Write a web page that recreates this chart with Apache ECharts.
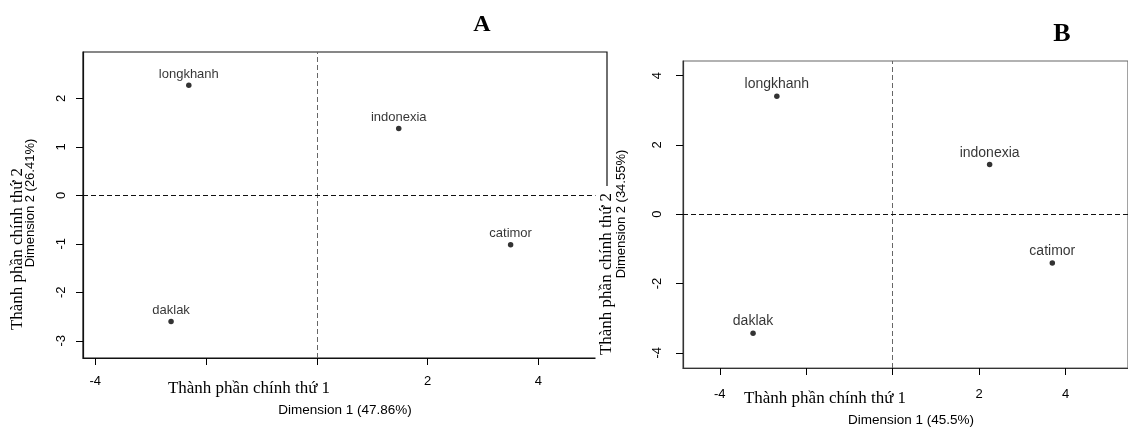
<!DOCTYPE html>
<html>
<head>
<meta charset="utf-8">
<title>PCA</title>
<script src="https://cdn.jsdelivr.net/npm/echarts@6/dist/echarts.min.js"></script>
<style>
  html, body { margin: 0; padding: 0; background: #fff; }
  #chart { width: 1128px; height: 428px; }
</style>
</head>
<body>
<div id="chart"></div>
<script>
const names = ['longkhanh', 'indonexia', 'catimor', 'daklak'];

// panel A
const dimA1 = [-2.31, 1.48, 3.50, -2.63];
const dimA2 = [2.27, 1.38, -1.02, -2.60];
// panel B
const dimB1 = [-2.68, 2.24, 3.69, -3.23];
const dimB2 = [3.40, 1.43, -1.41, -3.44];

const ticksAx = [-4, -2, 0, 2, 4];
const labelsAx = [-4, 2, 4];
const ticksAy = [-3, -2, -1, 0, 1, 2];
const ticksBx = [-4, -2, 0, 2, 4];
const labelsBx = [-4, 2, 4];
const ticksBy = [-4, -2, 0, 2, 4];

const rangeAx = [-4.22, 5.24];
const rangeAy = [-3.355, 2.955];
const rangeBx = [-4.85, 5.44];
const rangeBy = [-4.44, 4.42];

const titleX = 'Thành phần chính thứ 1';
const titleY = 'Thành phần chính thứ 2';
const dimLabelA = ['Dimension 1 (47.86%)', 'Dimension 2 (26.41%)'];
const dimLabelB = ['Dimension 1 (45.5%)', 'Dimension 2 (34.55%)'];

const SANS = '"Liberation Sans", Arial, sans-serif';
const SERIF = '"Liberation Serif", "Times New Roman", serif';

function xAxisFor(grid, range, ticks, labels, color, margin) {
    return {
        type: 'value', gridIndex: grid, min: range[0], max: range[1],
        axisLine: { show: true, onZero: false, lineStyle: { color: color, width: 1.2 } },
        axisTick: { show: true, length: 7, customValues: ticks, lineStyle: { color: '#000' } },
        axisLabel: { customValues: labels, margin: margin, color: '#000', fontFamily: SANS, fontSize: 13 },
        splitLine: { show: false }
    };
}

function yAxisFor(grid, range, ticks, color, margin) {
    return {
        type: 'value', gridIndex: grid, min: range[0], max: range[1],
        axisLine: { show: true, onZero: false, lineStyle: { color: color, width: 1.2 } },
        axisTick: { show: true, length: 7, customValues: ticks, lineStyle: { color: '#000' } },
        axisLabel: { customValues: ticks, rotate: 90, margin: margin, color: '#000', fontFamily: SANS, fontSize: 13 },
        splitLine: { show: false }
    };
}

function scatterFor(idx, xs, ys, fontSize) {
    return {
        type: 'scatter', xAxisIndex: idx, yAxisIndex: idx,
        data: names.map((n, i) => ({ name: n, value: [xs[i], ys[i]] })),
        symbolSize: 5.5,
        itemStyle: { color: '#000' },
        label: {
            show: true, position: 'top', distance: 2, formatter: '{b}',
            color: '#000', fontFamily: SANS, fontSize: fontSize
        },
        markLine: {
            silent: true, symbol: 'none', label: { show: false }, animation: false,
            data: [
                { xAxis: 0, lineStyle: { color: '#666', type: [5, 3], width: 1 } },
                { yAxis: 0, lineStyle: { color: '#111', type: [5, 3], width: 1 } }
            ]
        }
    };
}

function text(x, y, str, font, rotation, extra) {
    return {
        type: 'text', x: x, y: y, rotation: rotation || 0, z: 100,
        style: Object.assign({
            text: str, font: font, fill: '#000',
            align: 'center', verticalAlign: 'middle',
            textAlign: 'center', textVerticalAlign: 'middle'
        }, extra || {})
    };
}

const chart = echarts.init(document.getElementById('chart'));
chart.setOption({
    animation: false,
    grid: [
        { left: 83, top: 52, width: 524, height: 306, show: true, borderColor: '#111', borderWidth: 1.2 },
        { left: 683, top: 61, width: 460, height: 307, show: true, borderColor: '#666', borderWidth: 1.2 }
    ],
    xAxis: [
        xAxisFor(0, rangeAx, ticksAx, labelsAx, '#111', 17),
        xAxisFor(1, rangeBx, ticksBx, labelsBx, '#333', 20)
    ],
    yAxis: [
        yAxisFor(0, rangeAy, ticksAy, '#111', 15),
        yAxisFor(1, rangeBy, ticksBy, '#333', 19)
    ],
    series: [
        scatterFor(0, dimA1, dimA2, 13),
        scatterFor(1, dimB1, dimB2, 14)
    ],
    graphic: [
        text(482, 25, 'A', 'bold 24px ' + SERIF),
        text(1062, 34, 'B', 'bold 26px ' + SERIF),
        // panel A axis titles
        text(249, 389, titleX, '17px ' + SERIF),
        text(345, 410, dimLabelA[0], '13.5px ' + SANS),
        text(18, 249, titleY, '17px ' + SERIF, Math.PI / 2),
        text(30, 203, dimLabelA[1], '13px ' + SANS, Math.PI / 2),
        // panel B axis titles
        text(825, 399, titleX, '17px ' + SERIF),
        text(911, 420, dimLabelB[0], '13.5px ' + SANS),
        text(607, 274, titleY, '17px ' + SERIF, Math.PI / 2,
            { backgroundColor: '#fff', padding: [6, 7, 0, 7] }),
        text(621, 214, dimLabelB[1], '13px ' + SANS, Math.PI / 2)
    ]
});
</script>
</body>
</html>
